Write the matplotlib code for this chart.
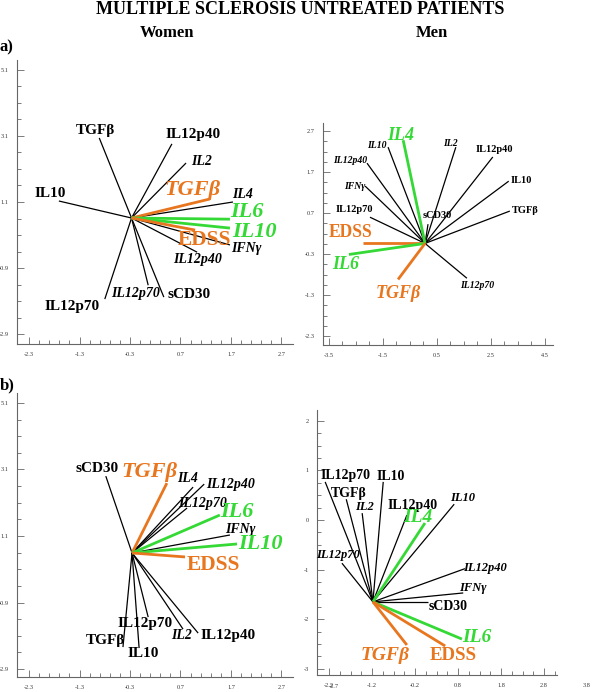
import matplotlib
matplotlib.use("Agg")
import matplotlib.pyplot as plt
import numpy as np

plt.rcParams['font.family'] = ['Liberation Serif', 'DejaVu Serif']

ORANGE = '#E8761F'
GREEN = '#35D935'

# style codes: b = bold black, i = bold italic black, g = green italic, o = orange italic, O = orange bold
# ---- a) women
wa_origin = (-0.27, 0.615)
wa_names = ['TGFβ', 'IL12p40', 'IL2', 'TGFβ', 'IL4', 'IL6', 'IL10', 'EDSS', 'IFNγ', 'IL12p40',
            'IL10', 'IL12p70', 'IL12p70', 'sCD30']
wa_kind = ['b', 'b', 'i', 'o', 'i', 'g', 'g', 'O', 'i', 'i', 'b', 'b', 'i', 'b']
wa_x = [-0.91, 0.53, 0.81, 1.28, 1.74, 1.68, 1.68, 0.99, 1.68, 1.03, -1.71, -0.80, 0.06, 0.37]
wa_y = [3.04, 2.86, 2.28, 1.19, 1.10, 0.58, 0.31, 0.25, -0.20, -0.42, 1.13, -1.84, -1.42, -1.78]
wa_off = [(-4, 7), (21, 9), (16, 2), (-17, 9), (10, 7), (17, 7), (25, -4), (9, -10), (16, -4),
          (0, -7), (-9, 8), (-33, -7), (-13, -8), (25, 3)]

# ---- a) men
ma_origin = (0.06, -0.04)
ma_names = ['IL4', 'IL10', 'IL12p40', 'IFNγ', 'IL12p70', 'EDSS', 'IL6', 'TGFβ', 'IL12p70',
            'IL2', 'IL12p40', 'IL10', 'TGFβ', 'sCD30']
ma_kind = ['g', 'i', 'i', 'i', 'b', 'O', 'g', 'o', 'i', 'i', 'b', 'b', 'b', 'b']
ma_x = [-0.75, -1.31, -2.09, -2.16, -1.98, -2.24, -2.76, -0.94, 1.61, 1.20, 2.57, 3.16, 3.20, 0.17]
ma_y = [2.48, 2.31, 1.92, 1.36, 0.60, -0.04, -0.31, -0.92, -0.89, 2.31, 2.07, 1.48, 0.75, 0.43]
ma_off = [(-3, 5), (-11, 2), (-17, 3), (-10, 0), (-16, 8), (-12, 11), (-3, -10), (0, -14), (10, -7),
          (-5, 4), (2, 7), (13, 1), (15, 1), (9, 9)]

# ---- b) women
wb_origin = (-0.26, 0.59)
wb_names = ['sCD30', 'TGFβ', 'IL4', 'IL12p40', 'IL12p70', 'IL6', 'IFNγ', 'IL10', 'EDSS',
            'IL12p70', 'IL2', 'IL12p40', 'TGFβ', 'IL10']
wb_kind = ['b', 'o', 'i', 'i', 'i', 'g', 'i', 'g', 'O', 'b', 'i', 'b', 'b', 'b']
wb_x = [-0.78, 0.43, 0.95, 1.17, 0.83, 1.48, 1.68, 1.82, 0.79, 0.06, 0.75, 1.05, -0.44, -0.12]
wb_y = [2.90, 2.69, 2.57, 2.66, 1.94, 1.73, 1.13, 0.86, 0.47, -1.34, -1.70, -1.82, -2.24, -2.27]
wb_off = [(-9, 8), (-17, 11), (-6, 9), (26, 0), (16, 5), (17, 3), (10, 6), (23, 0), (28, -8),
          (-3, -6), (-1, -6), (30, -2), (-18, 7), (4, -5)]

# ---- b) men
mb_origin = (-1.18, -1.65)
mb_names = ['IL12p70', 'TGFβ', 'IL2', 'IL10', 'IL12p40', 'IL4', 'IL10', 'IL12p70', 'IL12p40',
            'IFNγ', 'sCD30', 'IL6', 'TGFβ', 'EDSS']
mb_kind = ['b', 'b', 'i', 'b', 'b', 'g', 'i', 'i', 'i', 'i', 'b', 'g', 'o', 'O']
mb_x = [-2.29, -1.80, -1.43, -0.94, -0.39, 0.03, 0.71, -1.90, 0.96, 0.92, 0.10, 0.89, -0.39, 0.50]
mb_y = [0.77, 0.42, 0.14, 0.77, 0.10, -0.06, 0.32, -0.87, -0.98, -1.47, -1.65, -2.40, -2.52, -2.54]
mb_off = [(20, 6), (2, 6), (2, 6), (8, 5), (6, 10), (-7, 6), (8, 6), (-4, 8), (20, 1), (10, 5),
          (20, -5), (15, 2), (-22, -10), (8, -10)]

# axis ticks
w_xticks = [-2.3, -1.3, -0.3, 0.7, 1.7, 2.7]
w_yticks = [5.1, 3.1, 1.1, -0.9, -2.9]
ma_xticks = [-3.5, -1.5, 0.5, 2.5, 4.5]
ma_yticks = [2.7, 1.7, 0.7, -0.3, -1.3, -2.3]
mb_xticks = [-2.2, -1.2, -0.2, 0.8, 1.8, 2.8, 3.8]
mb_yticks = [2, 1, 0, -1, -2, -3]


def style(kind, sizes):
    sb, si, sbig = sizes
    if kind == 'b':
        return dict(color='black', fontweight='bold', fontsize=sb), 'black', 0.9
    if kind == 'i':
        return dict(color='black', fontweight='bold', fontstyle='italic', fontsize=si), 'black', 0.9
    if kind == 'g':
        return dict(color=GREEN, fontweight='bold', fontstyle='italic', fontsize=sbig), GREEN, 2.0
    if kind == 'o':
        return dict(color=ORANGE, fontweight='bold', fontstyle='italic', fontsize=sbig), ORANGE, 2.0
    return dict(color=ORANGE, fontweight='bold', fontsize=sbig * 0.97), ORANGE, 2.0


def make_ax(fig, box, xlim, ylim, xticks, yticks, xminor, yminor, xbound=None):
    x0, y0, x1, y1 = box
    ax = fig.add_axes([x0 / 600, 1 - y1 / 692, (x1 - x0) / 600, (y1 - y0) / 692])
    ax.set_xlim(*xlim)
    ax.set_ylim(*ylim)
    for s in ['top', 'right']:
        ax.spines[s].set_visible(False)
    for s in ['left', 'bottom']:
        ax.spines[s].set_color('#666666')
        ax.spines[s].set_linewidth(0.8)
    if xbound is not None:
        ax.spines['bottom'].set_bounds(xlim[0], xbound)
    ax.set_xticks(xticks)
    ax.set_yticks(yticks)
    ax.set_xticklabels([('%g' % t) for t in xticks])
    ax.set_yticklabels([('%g' % t) for t in yticks])
    ax.set_xticks(xminor, minor=True)
    ax.set_yticks(yminor, minor=True)
    ax.tick_params(which='both', direction='in', color='#666666', labelsize=4.5,
                   labelcolor='#333333', width=0.6)
    ax.tick_params(which='major', length=5, pad=6)
    ax.tick_params(which='minor', length=3)
    ax.patch.set_alpha(0)
    return ax


def draw(ax, origin, names, kinds, xs, ys, offs, sizes):
    ox, oy = origin
    order = [k for k in range(len(names)) if kinds[k] in 'bi'] + \
            [k for k in range(len(names)) if kinds[k] not in 'bi']
    for k in order:
        tstyle, lc, lw = style(kinds[k], sizes)
        ax.plot([ox, xs[k]], [oy, ys[k]], color=lc, lw=lw, solid_capstyle='butt', zorder=3 if lw > 1 else 2)
        ax.annotate(names[k], (xs[k], ys[k]), xytext=offs[k], textcoords='offset pixels',
                    ha='center', va='center', zorder=4, **tstyle)


fig = plt.figure(figsize=(6, 6.92), dpi=100)

fig.text(300 / 600, 1 - 10 / 692, 'MULTIPLE SCLEROSIS UNTREATED PATIENTS', ha='center', va='center',
         fontsize=13, fontweight='bold')
fig.text(167 / 600, 1 - 33 / 692, 'Women', ha='center', va='center', fontsize=12, fontweight='bold')
fig.text(432 / 600, 1 - 33 / 692, 'Men', ha='center', va='center', fontsize=12, fontweight='bold')
fig.text(0 / 600, 1 - 47 / 692, 'a)', ha='left', va='center', fontsize=12, fontweight='bold')
fig.text(0 / 600, 1 - 385 / 692, 'b)', ha='left', va='center', fontsize=12, fontweight='bold')

# a) women
ax1 = make_ax(fig, (17, 60, 293, 344), (-2.54, 2.93), (-3.2, 5.4), w_xticks, w_yticks,
              np.arange(-2.3, 2.9, 0.2), np.arange(-2.9, 5.2, 0.5))
draw(ax1, wa_origin, wa_names, wa_kind, wa_x, wa_y, wa_off, (11, 10, 16))

# a) men
ax2 = make_ax(fig, (323, 123, 553, 345), (-3.72, 4.8), (-2.52, 2.9), ma_xticks, ma_yticks,
              np.arange(-3.5, 4.6, 0.5), np.arange(-2.3, 2.8, 0.25))
draw(ax2, ma_origin, ma_names, ma_kind, ma_x, ma_y, ma_off, (7.5, 7, 13))

# b) women
ax3 = make_ax(fig, (17, 393, 293, 677), (-2.54, 2.93), (-3.14, 5.4), w_xticks, w_yticks,
              np.arange(-2.3, 2.9, 0.2), np.arange(-2.9, 5.2, 0.5))
draw(ax3, wb_origin, wb_names, wb_kind, wb_x, wb_y, wb_off, (11, 10, 16))

# b) men
ax4 = make_ax(fig, (317, 410, 600, 675), (-2.48, 4.1), (-3.125, 2.22), mb_xticks, mb_yticks,
              np.arange(-2.2, 3.11, 0.25), np.arange(-3, 2.1, 0.25), xbound=3.1)
ax4.xaxis.get_major_ticks()[-1].tick1line.set_visible(False)
# the original software printed the axis minimum on top of the first tick label
ax4.annotate('-2.7', (-2.2, 0), xycoords=('data', 'axes fraction'), xytext=(5, -11),
             textcoords='offset pixels', ha='center', va='center', fontsize=4.5, color='#333333')
draw(ax4, mb_origin, mb_names, mb_kind, mb_x, mb_y, mb_off, (10, 9, 14))

fig.savefig('out.png', dpi=100)
